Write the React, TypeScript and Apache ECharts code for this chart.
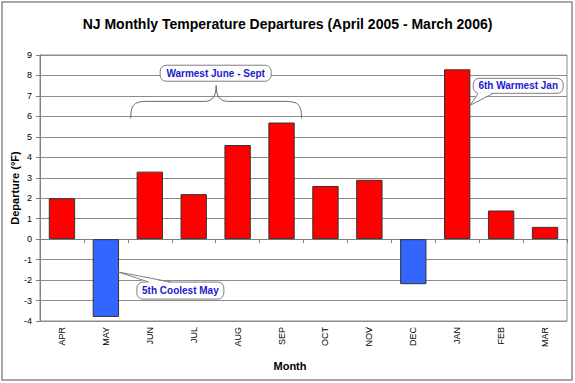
import React, { useEffect, useRef } from "react";
import * as echarts from "echarts";

const months = ["APR", "MAY", "JUN", "JUL", "AUG", "SEP", "OCT", "NOV", "DEC", "JAN", "FEB", "MAR"];
const departures = [2.0, -3.8, 3.3, 2.2, 4.6, 5.7, 2.6, 2.9, -2.2, 8.3, 1.4, 0.6];
const yTicks = { min: -4, max: 9, interval: 1 };
const titleText = "NJ Monthly Temperature Departures (April 2005 - March 2006)";
const notes = { summer: "Warmest June - Sept", jan: "6th Warmest Jan", may: "5th Coolest May" };

const FONT = "Arial, 'Liberation Sans', sans-serif";
const NOTE_COLOR = "#1a1ad0";
const GRID_COLOR = "#8c8c8c";

export default function App() {
  const ref = useRef<HTMLDivElement>(null);
  useEffect(() => {
    document.body.style.margin = "0";
    const chart = echarts.init(ref.current!, null, { renderer: "svg" });
    chart.setOption({
      animation: false,
      backgroundColor: "#ffffff",
      title: {
        text: titleText,
        left: "center",
        top: 12,
        textStyle: { fontFamily: FONT, fontSize: 14, fontWeight: "bold", color: "#000" },
      },
      grid: {
        left: 40, right: 8, top: 55, bottom: 62,
        outerBoundsMode: "none",
        containLabel: false,
        show: true, borderColor: GRID_COLOR, borderWidth: 1, backgroundColor: "transparent",
      },
      xAxis: [
        {
          type: "category",
          data: months,
          axisLine: { onZero: true, lineStyle: { color: "#808080", width: 1 } },
          axisTick: { show: true, length: 4, lineStyle: { color: "#808080" } },
          axisLabel: { show: false },
          splitLine: { show: false },
        },
        {
          type: "category",
          data: months,
          position: "bottom",
          axisLine: { show: false, onZero: false },
          axisTick: { show: false },
          axisLabel: { rotate: 90, margin: 6, fontFamily: FONT, fontSize: 9, color: "#000" },
        },
      ],
      yAxis: {
        type: "value",
        min: yTicks.min,
        max: yTicks.max,
        interval: yTicks.interval,
        name: "Departure (°F)",
        nameLocation: "middle",
        nameGap: 20,
        nameMoveOverlap: false,
        nameTextStyle: { fontFamily: FONT, fontSize: 11, fontWeight: "bold", color: "#000" },
        axisLine: { show: true, lineStyle: { color: "#808080" } },
        axisTick: { show: true, length: 4, lineStyle: { color: "#808080" } },
        axisLabel: { fontFamily: FONT, fontSize: 9, color: "#000", margin: 8 },
        splitLine: { show: true, lineStyle: { color: GRID_COLOR, width: 1 } },
      },
      series: [
        {
          type: "bar",
          xAxisIndex: 0,
          barCategoryGap: "40%",
          data: departures.map((v) => ({
            value: v,
            itemStyle: { color: v >= 0 ? "#ff0000" : "#3366ff", borderColor: "#333333", borderWidth: 1 },
          })),
        },
      ],
    });

    const px = (cat: string, v: number) => chart.convertToPixel({ gridIndex: 0 }, [cat, v]) as number[];

    // Summer brace
    const jun = px("JUN", 6);
    const sep = px("SEP", 6);
    const xl = jun[0] - 19;
    const xr = sep[0] + 20;
    const yb = jun[1] + 2;
    const yh = yb - 17;
    const yp = yh - 16;
    const xm = (xl + xr) / 2;
    const braceStyle = { stroke: "#666", lineWidth: 1, fill: "none" };
    const summerRectTop = px("JUN", 8.5)[1];

    // Jan callout
    const jan = px("JAN", 8.3);
    const janLeft = jan[0] + 16;
    const janTop = jan[1] + 9;
    const janTip = [jan[0] + 13, janTop + 27];

    // May callout
    const may = px("MAY", -1.6);
    const mayTop = px("MAY", -2)[1] + 2;
    const mayLeft = may[0] + 31;
    const mayTip = [may[0] + 12, may[1]];

    const calloutStroke = "#7f7f7f";
    const noteText = (x: number, y: number, w: number, h: number, t: string) => ({
      type: "text",
      x: x + w / 2,
      y: y + h / 2,
      style: { text: t, fill: NOTE_COLOR, font: `bold 10px ${FONT}`, align: "center", verticalAlign: "middle" },
      z: 20,
    });

    chart.setOption({
      graphic: [
        { type: "rect", shape: { x: 2, y: 2, width: 570, height: 378 }, style: { fill: "none", stroke: "#8a8a8a", lineWidth: 1.5 }, z: 30 },
        // brace
        { type: "bezierCurve", shape: { x1: xl, y1: yb, cpx1: xl, cpy1: yh + 2, cpx2: xl + 4, cpy2: yh, x2: xl + 18, y2: yh }, style: braceStyle, z: 15 },
        { type: "line", shape: { x1: xl + 18, y1: yh, x2: xm - 12, y2: yh }, style: braceStyle, z: 15 },
        { type: "bezierCurve", shape: { x1: xm - 12, y1: yh, cpx1: xm - 3, cpy1: yh, cpx2: xm, cpy2: yh - 6, x2: xm, y2: yp }, style: braceStyle, z: 15 },
        { type: "bezierCurve", shape: { x1: xm + 12, y1: yh, cpx1: xm + 3, cpy1: yh, cpx2: xm, cpy2: yh - 6, x2: xm, y2: yp }, style: braceStyle, z: 15 },
        { type: "line", shape: { x1: xm + 12, y1: yh, x2: xr - 18, y2: yh }, style: braceStyle, z: 15 },
        { type: "bezierCurve", shape: { x1: xr, y1: yb, cpx1: xr, cpy1: yh + 2, cpx2: xr - 4, cpy2: yh, x2: xr - 18, y2: yh }, style: braceStyle, z: 15 },
        { type: "rect", shape: { x: xm - 56, y: summerRectTop, width: 111, height: 16, r: 6 }, style: { fill: "#fff", stroke: calloutStroke, lineWidth: 1 }, z: 16 },
        noteText(xm - 56, summerRectTop, 111, 16, notes.summer),
        // Jan callout
        { type: "rect", shape: { x: janLeft, y: janTop, width: 90, height: 15, r: 6 }, style: { fill: "#fff", stroke: calloutStroke, lineWidth: 1 }, z: 16 },
        { type: "polygon", shape: { points: [janTip, [janLeft + 5, janTop + 14], [janLeft + 20, janTop + 14]] }, style: { fill: "#fff", stroke: "none" }, z: 17 },
        { type: "polyline", shape: { points: [[janLeft + 5, janTop + 15], janTip, [janLeft + 20, janTop + 15]] }, style: { fill: "none", stroke: calloutStroke, lineWidth: 1 }, z: 17 },
        noteText(janLeft, janTop, 90, 15, notes.jan),
        // May callout
        { type: "rect", shape: { x: mayLeft, y: mayTop, width: 87, height: 17, r: 6 }, style: { fill: "#fff", stroke: calloutStroke, lineWidth: 1 }, z: 16 },
        { type: "polygon", shape: { points: [mayTip, [mayLeft + 12, mayTop + 1], [mayLeft + 34, mayTop + 1]] }, style: { fill: "#fff", stroke: "none" }, z: 17 },
        { type: "polyline", shape: { points: [[mayLeft + 12, mayTop], mayTip, [mayLeft + 34, mayTop]] }, style: { fill: "none", stroke: calloutStroke, lineWidth: 1 }, z: 17 },
        noteText(mayLeft, mayTop, 87, 17, notes.may),
        // x axis name
        {
          type: "text",
          x: 290,
          y: 366,
          style: { text: "Month", fill: "#000", font: `bold 11px ${FONT}`, align: "center", verticalAlign: "middle" },
        },
      ],
    });

    return () => chart.dispose();
  }, []);
  return <div ref={ref} style={{ width: 575, height: 383 }} />;
}
